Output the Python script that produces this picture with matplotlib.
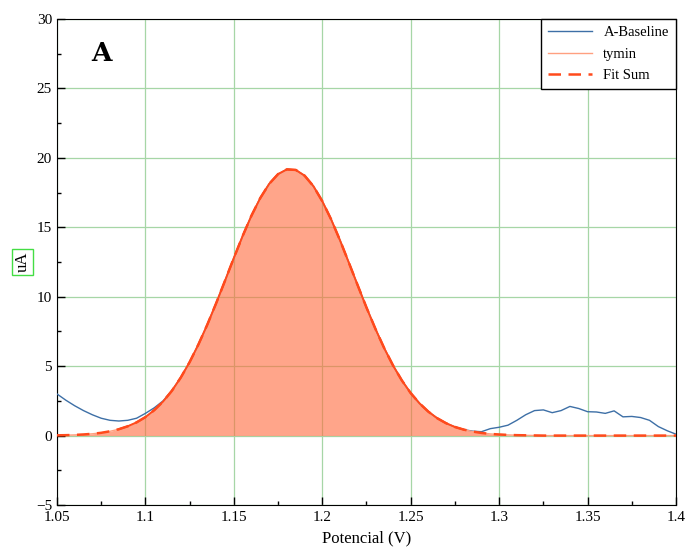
import numpy as np
import matplotlib.pyplot as plt
from matplotlib.ticker import MultipleLocator

# potential grid (V)
potential = [1.05, 1.055, 1.06, 1.065, 1.07, 1.075, 1.08, 1.085, 1.09, 1.095,
             1.10, 1.105, 1.11, 1.115, 1.12, 1.125, 1.13, 1.135, 1.14, 1.145,
             1.15, 1.155, 1.16, 1.165, 1.17, 1.175, 1.18, 1.185, 1.19, 1.195,
             1.20, 1.205, 1.21, 1.215, 1.22, 1.225, 1.23, 1.235, 1.24, 1.245,
             1.25, 1.255, 1.26, 1.265, 1.27, 1.275, 1.28, 1.285, 1.29, 1.295,
             1.30, 1.305, 1.31, 1.315, 1.32, 1.325, 1.33, 1.335, 1.34, 1.345,
             1.35, 1.355, 1.36, 1.365, 1.37, 1.375, 1.38, 1.385, 1.39, 1.395,
             1.40]

# fitted peak (tymin) = fit sum
tymin = [0.02, 0.03, 0.05, 0.08, 0.13, 0.20, 0.31, 0.46, 0.67, 0.95,
         1.33, 1.83, 2.45, 3.23, 4.18, 5.29, 6.57, 7.99, 9.53, 11.15,
         12.79, 14.38, 15.85, 17.12, 18.13, 18.83, 19.17, 19.13, 18.72, 17.96,
         16.88, 15.57, 14.07, 12.46, 10.83, 9.22, 7.70, 6.30, 5.05, 3.97,
         3.06, 2.32, 1.72, 1.25, 0.89, 0.62, 0.43, 0.29, 0.19, 0.12,
         0.08, 0.05, 0.03, 0.02, 0.01, 0.0, 0.0, 0.0, 0.0, 0.0,
         0.0, 0.0, 0.0, 0.0, 0.0, 0.0, 0.0, 0.0, 0.0, 0.0,
         0.0]

# baseline-corrected signal
baseline = [3.0, 2.55, 2.15, 1.8, 1.5, 1.25, 1.1, 1.05, 1.1, 1.25,
            1.6, 2.0, 2.5, 3.25, 4.18, 5.29, 6.57, 7.99, 9.53, 11.15,
            12.79, 14.38, 15.85, 17.12, 18.13, 18.83, 19.17, 19.13, 18.72, 17.96,
            16.88, 15.57, 14.07, 12.46, 10.83, 9.22, 7.70, 6.30, 5.05, 3.97,
            3.06, 2.32, 1.72, 1.25, 0.89, 0.62, 0.43, 0.32, 0.28, 0.5,
            0.6, 0.75, 1.1, 1.5, 1.8, 1.85, 1.65, 1.8, 2.1, 1.95,
            1.72, 1.7, 1.6, 1.78, 1.35, 1.38, 1.3, 1.1, 0.65, 0.35,
            0.1]

plt.rcParams['font.family'] = ['Liberation Serif', 'DejaVu Serif']

fig = plt.figure(figsize=(6.88, 5.49), dpi=100)
ax = fig.add_axes([0.0828, 0.0801, 0.8998, 0.8853])

ax.grid(True, which='major', color='#A6D6A6', lw=0.9, zorder=0)
ax.set_axisbelow(True)

ax.fill_between(potential, 0, tymin, color='#FF6A3D', alpha=0.6, lw=0, zorder=2)
ax.plot(potential, baseline, color='#3D6FA6', lw=1.0, label='A-Baseline', zorder=3)
ax.plot(potential, tymin, color='#FFA080', lw=1.0, label='tymin', zorder=4)
# peak part of the fit looks solid in the original
peak = np.where(np.array(tymin) > 0.4, tymin, np.nan)
ax.plot(potential, peak, color='#FF4A1C', lw=1.4, zorder=5)
ax.plot(potential, tymin, color='#FF4A1C', lw=1.8, ls=(0, (5, 3)), label='Fit Sum', zorder=5)

ax.set_xlim(1.05, 1.4)
ax.set_ylim(-5, 30)
ax.xaxis.set_minor_locator(MultipleLocator(0.025))
ax.yaxis.set_major_locator(MultipleLocator(5))
ax.yaxis.set_minor_locator(MultipleLocator(2.5))
ax.set_xticks([1.05, 1.1, 1.15, 1.2, 1.25, 1.3, 1.35, 1.4])
ax.set_xticklabels(['1.05', '1.1', '1.15', '1.2', '1.25', '1.3', '1.35', '1.4'])
ax.tick_params(which='both', direction='in', top=False, right=False, labelsize=11)
ax.tick_params(which='major', length=6, width=1)
ax.tick_params(which='minor', length=3, width=1)
ax.tick_params(axis='x', pad=4)

ax.set_xlabel('Potencial (V)', fontsize=12, labelpad=5)
ax.set_ylabel('uA', fontsize=12, labelpad=4,
              bbox=dict(boxstyle='square,pad=0.15', fc='white', ec='#44DD44', lw=1))

ax.text(0.055, 0.93, 'A', transform=ax.transAxes, fontsize=19,
        fontweight='bold', family='DejaVu Serif', va='center')

leg = ax.legend(loc='upper right', fontsize=10.5, fancybox=False, framealpha=1,
                edgecolor='black', borderaxespad=0, handlelength=3,
                labelspacing=0.55, borderpad=0.5)
leg.get_frame().set_linewidth(1)

fig.savefig('out.png', dpi=100)
